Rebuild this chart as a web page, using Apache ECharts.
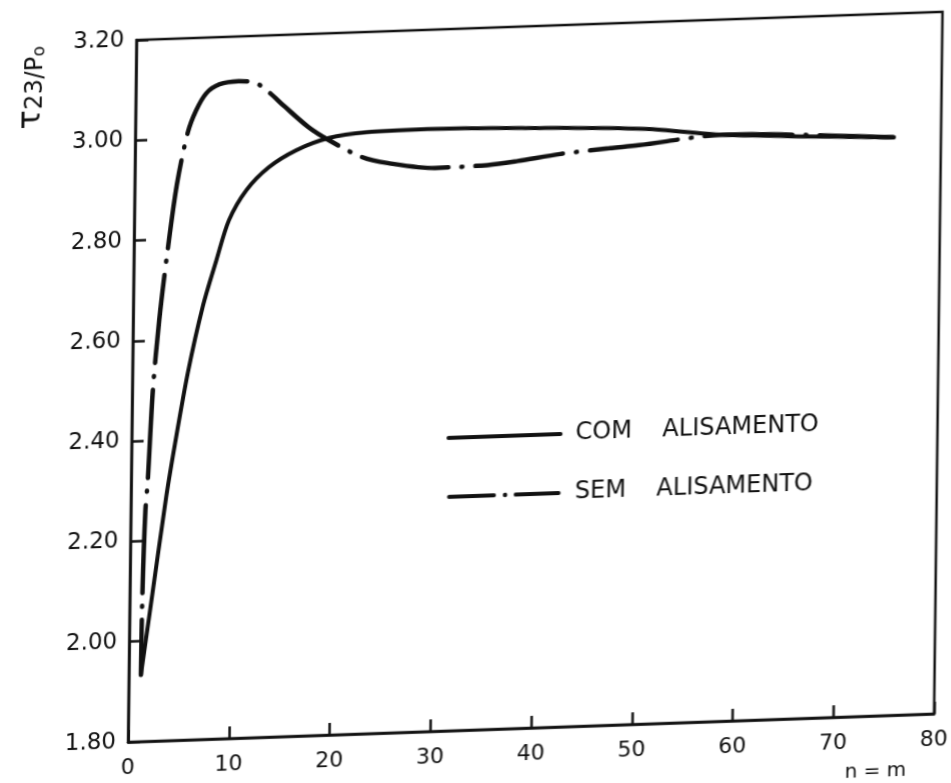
<!DOCTYPE html>
<html>
<head>
<meta charset="utf-8">
<script src="https://cdn.jsdelivr.net/npm/echarts@6/dist/echarts.min.js"></script>
<style>
  html, body { margin: 0; padding: 0; background: #fff; overflow: hidden; }
  /* the scanned page is slightly sheared, copy that */
  #chart {
    width: 951px;
    height: 830px;
    transform-origin: 128px 742px;
    transform: matrix(1, -0.035, -0.012, 1, 0, 0);
  }
</style>
</head>
<body>
<div id="chart"></div>
<script>
// n = m
const comX = [1.2, 2.0, 3.5, 4.3, 5.5, 6.9, 8.2, 9.4, 11.1, 13.3, 16.0, 19.2, 23.0, 29.0, 39.0, 50.7, 58.3, 75.3]
const comY = [1.933, 2.056, 2.286, 2.39, 2.532, 2.663, 2.755, 2.834, 2.893, 2.937, 2.969, 2.991, 3.000, 3.002, 2.997, 2.987, 2.970, 2.953]

const semX = [1.2, 1.25, 1.45, 1.65, 2.05, 2.6, 3.3, 4.2, 5.2, 6.0, 7.0, 8.3, 10.2, 11.9, 13.2, 14.8, 17.2, 19.2, 22.5, 25.1, 29.8, 35.0, 38.0, 42.2, 47.1, 50.0, 58.3, 75.3]
const semY = [1.933, 2.09, 2.26, 2.32, 2.50, 2.64, 2.77, 2.91, 3.011, 3.055, 3.089, 3.106, 3.111, 3.106, 3.087, 3.057, 3.014, 2.987, 2.951, 2.937, 2.924, 2.926, 2.932, 2.943, 2.951, 2.955, 2.970, 2.953]

const xTicks = { min: 0, max: 80, step: 10 }
const yTicks = { min: 1.8, max: 3.2, step: 0.2 }

const names = ['COM    ALISAMENTO', 'SEM    ALISAMENTO']

const ink = '#111'
const font = 'DejaVu Sans'

// legend keys drawn as paths (solid bar, dash-dot-dash)
const solidKey = 'path://M2,0h112a2,2 0 0,1 0,4h-112a2,2 0 0,1 0,-4z'
const dashDotKey = 'path://M2,0h46a2,2 0 0,1 0,4h-46a2,2 0 0,1 0,-4z' +
  'M57,2a2.3,2.3 0 1,0 4.6,0a2.3,2.3 0 1,0 -4.6,0z' +
  'M70,0h44a2,2 0 0,1 0,4h-44a2,2 0 0,1 0,-4z'

function pairs (xs, ys) {
  return xs.map((x, i) => [x, ys[i]])
}

const chart = echarts.init(document.getElementById('chart'))

chart.setOption({
  animation: false,
  backgroundColor: '#fff',
  grid: {
    left: 128,
    right: 11,
    top: 40,
    bottom: 88,
    show: true,
    borderColor: ink,
    borderWidth: 2.5
  },
  xAxis: {
    type: 'value',
    min: xTicks.min,
    max: xTicks.max,
    interval: xTicks.step,
    splitLine: { show: false },
    axisLine: { lineStyle: { color: ink, width: 2.5 } },
    axisTick: { inside: true, length: 12, lineStyle: { color: ink, width: 2.5 } },
    axisLabel: { color: ink, fontSize: 22, fontFamily: font, margin: 15 }
  },
  yAxis: {
    type: 'value',
    min: yTicks.min,
    max: yTicks.max,
    interval: yTicks.step,
    splitLine: { show: false },
    axisLine: { show: true, lineStyle: { color: ink, width: 2.5 } },
    axisTick: { show: true, inside: true, length: 12, lineStyle: { color: ink, width: 2.5 } },
    axisLabel: {
      color: ink,
      fontSize: 23,
      fontFamily: font,
      margin: 12,
      formatter: v => v.toFixed(2)
    }
  },
  legend: {
    orient: 'vertical',
    left: 443,
    top: 437,
    padding: 0,
    itemGap: 35,
    itemWidth: 116,
    itemHeight: 4.5,
    itemStyle: { color: ink, borderWidth: 0 },
    textStyle: { color: ink, fontSize: 24, fontFamily: font, padding: [0, 0, 0, 8] },
    data: [
      { name: names[0], icon: solidKey },
      { name: names[1], icon: dashDotKey }
    ]
  },
  graphic: [
    {
      type: 'text',
      x: 22,
      y: 84,
      rotation: Math.PI / 2,
      style: {
        text: '{t|τ}{s|23/P}{o|o}',
        align: 'center',
        verticalAlign: 'middle',
        fill: ink,
        rich: {
          t: { fontSize: 32, fontFamily: font, verticalAlign: 'bottom', lineHeight: 36 },
          s: { fontSize: 24, fontFamily: font, verticalAlign: 'bottom', lineHeight: 36 },
          o: { fontSize: 17, fontFamily: font, verticalAlign: 'bottom', lineHeight: 36 }
        }
      }
    },
    {
      type: 'text',
      x: 876,
      y: 798,
      style: {
        text: 'n = m',
        align: 'center',
        verticalAlign: 'middle',
        fill: ink,
        font: '20px "DejaVu Sans"'
      }
    }
  ],
  series: [
    {
      name: names[0],
      type: 'line',
      data: pairs(comX, comY),
      symbol: 'none',
      smooth: 0.3,
      z: 3,
      lineStyle: { color: ink, width: 4, cap: 'round' },
      itemStyle: { color: ink }
    },
    {
      name: names[1],
      type: 'line',
      data: pairs(semX, semY),
      symbol: 'none',
      smooth: 0.3,
      z: 2,
      lineStyle: { color: ink, width: 4.5, type: [88, 13, 1, 13], dashOffset: 33, cap: 'round' },
      itemStyle: { color: ink }
    }
  ]
})
</script>
</body>
</html>
